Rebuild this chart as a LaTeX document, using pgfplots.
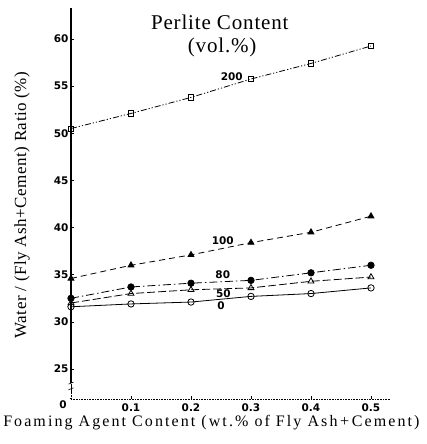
\documentclass[border=0pt]{standalone}
\usepackage{pgfplots}
\pgfplotsset{compat=1.18}
\usepackage{fontspec}
\setmainfont{Liberation Serif}
\newfontfamily\numfont{DejaVu Sans}
\newfontfamily\titlefont[LetterSpace=4]{Liberation Serif}
\newfontfamily\xlabfont[LetterSpace=13]{Liberation Serif}
\newfontfamily\ylabfont[LetterSpace=3]{Liberation Serif}
\newcommand{\numstyle}{\numfont\bfseries\fontsize{10.5}{11}\selectfont}

\begin{document}
\begin{tikzpicture}
\path[use as bounding box] (-71pt,-45pt) rectangle (355pt,399pt);
\begin{axis}[
  at={(0,0)}, anchor=south west,
  scale only axis, width=319pt, height=391pt,
  xmin=0, xmax=0.5317, ymin=21.82, ymax=63.28,
  axis x line=bottom, axis y line=left,
  x axis line style={-, densely dotted, line width=0.6pt},
  y axis line style={-, line width=1.1pt},
  xtick={0.1,0.2,0.3,0.4,0.5},
  xticklabels={0.1,0.2,0.3,0.4,0.5},
  ytick={25,30,35,40,45,50,55,60},
  tick align=inside,
  major tick length=3.5pt,
  tick style={black, line width=0.6pt},
  /pgf/number format/assume math mode=true,
  tick label style={font=\numstyle},
  xticklabel style={yshift=-1pt},
  yticklabel style={xshift=1pt},
  every axis plot/.append style={black, line width=0.8pt},
  clip=false,
]

% 200 vol.% perlite
\addplot[dash pattern=on 6pt off 2pt on 1.2pt off 2pt on 1.2pt off 2pt,
  mark=square, mark size=2.6pt, mark options={solid, fill=white}]
  coordinates {(0,50.5) (0.1,52.1) (0.2,53.8) (0.3,55.75) (0.4,57.4) (0.5,59.25)};
% 100 vol.%
\addplot[dash pattern=on 6pt off 4pt,
  mark=triangle*, mark size=3.4pt, mark options={solid}]
  coordinates {(0,34.6) (0.1,36.0) (0.2,37.1) (0.3,38.4) (0.4,39.5) (0.5,41.2)};
% 80 vol.%
\addplot[dash pattern=on 8pt off 3pt on 1.5pt off 3pt,
  mark=*, mark size=3.2pt, mark options={solid}]
  coordinates {(0,32.5) (0.1,33.7) (0.2,34.1) (0.3,34.4) (0.4,35.2) (0.5,36.0)};
% 50 vol.%
\addplot[dash pattern=on 8pt off 3pt,
  mark=triangle, mark size=3.4pt, mark options={solid, fill=white}]
  coordinates {(0,32.0) (0.1,33.0) (0.2,33.4) (0.3,33.6) (0.4,34.3) (0.5,34.75)};
% 0 vol.%
\addplot[solid,
  mark=o, mark size=3.2pt, mark options={solid, fill=white}]
  coordinates {(0,31.6) (0.1,31.9) (0.2,32.1) (0.3,32.7) (0.4,33.0) (0.5,33.6)};

% series labels
\begin{scope}[every node/.style={font=\numstyle, inner sep=0pt}]
  \node at (axis cs:0.268,56.0) {200};
  \node at (axis cs:0.253,38.6) {100};
  \node at (axis cs:0.253,34.95) {80};
  \node at (axis cs:0.254,32.95) {50};
  \node at (axis cs:0.250,31.75) {0};
  \node at ([xshift=-8pt,yshift=-6pt]axis cs:0,21.82) {0};
\end{scope}

% legend heading
\node[font=\titlefont\fontsize{21}{23}\selectfont] at (axis cs:0.248,61.8) {Perlite Content};
\node[font=\titlefont\fontsize{21}{23}\selectfont] at (axis cs:0.252,59.05) {(vol.\%)};

% axis titles
\node[font=\xlabfont\fontsize{16}{18}\selectfont]
  at ([yshift=-24pt]axis description cs:0.44,0)
  {Foaming Agent Content (wt.\% of Fly Ash\,+\,Cement)};
\node[font=\ylabfont\fontsize{17}{19}\selectfont, rotate=90]
  at ([xshift=-49pt]axis description cs:0,0.496)
  {Water / (Fly Ash+Cement) Ratio (\%)};

% broken y axis
\fill[white] ([xshift=-2pt]axis cs:0,21.95) rectangle ([xshift=2pt]axis cs:0,23.5);
\draw[line width=0.6pt] ([xshift=-2.5pt,yshift=-1pt]axis cs:0,23.5) -- ([xshift=2.5pt,yshift=1pt]axis cs:0,23.5);
\draw[line width=0.6pt] ([xshift=-2.5pt,yshift=-1pt]axis cs:0,22.9) -- ([xshift=2.5pt,yshift=1pt]axis cs:0,22.9);
\draw[line width=0.7pt] (axis cs:0,23.4) -- (axis cs:0,22.6);
\draw[line width=0.5pt, densely dotted] (axis cs:0,22.6) -- (axis cs:0,21.82);
\end{axis}
\end{tikzpicture}
\end{document}
